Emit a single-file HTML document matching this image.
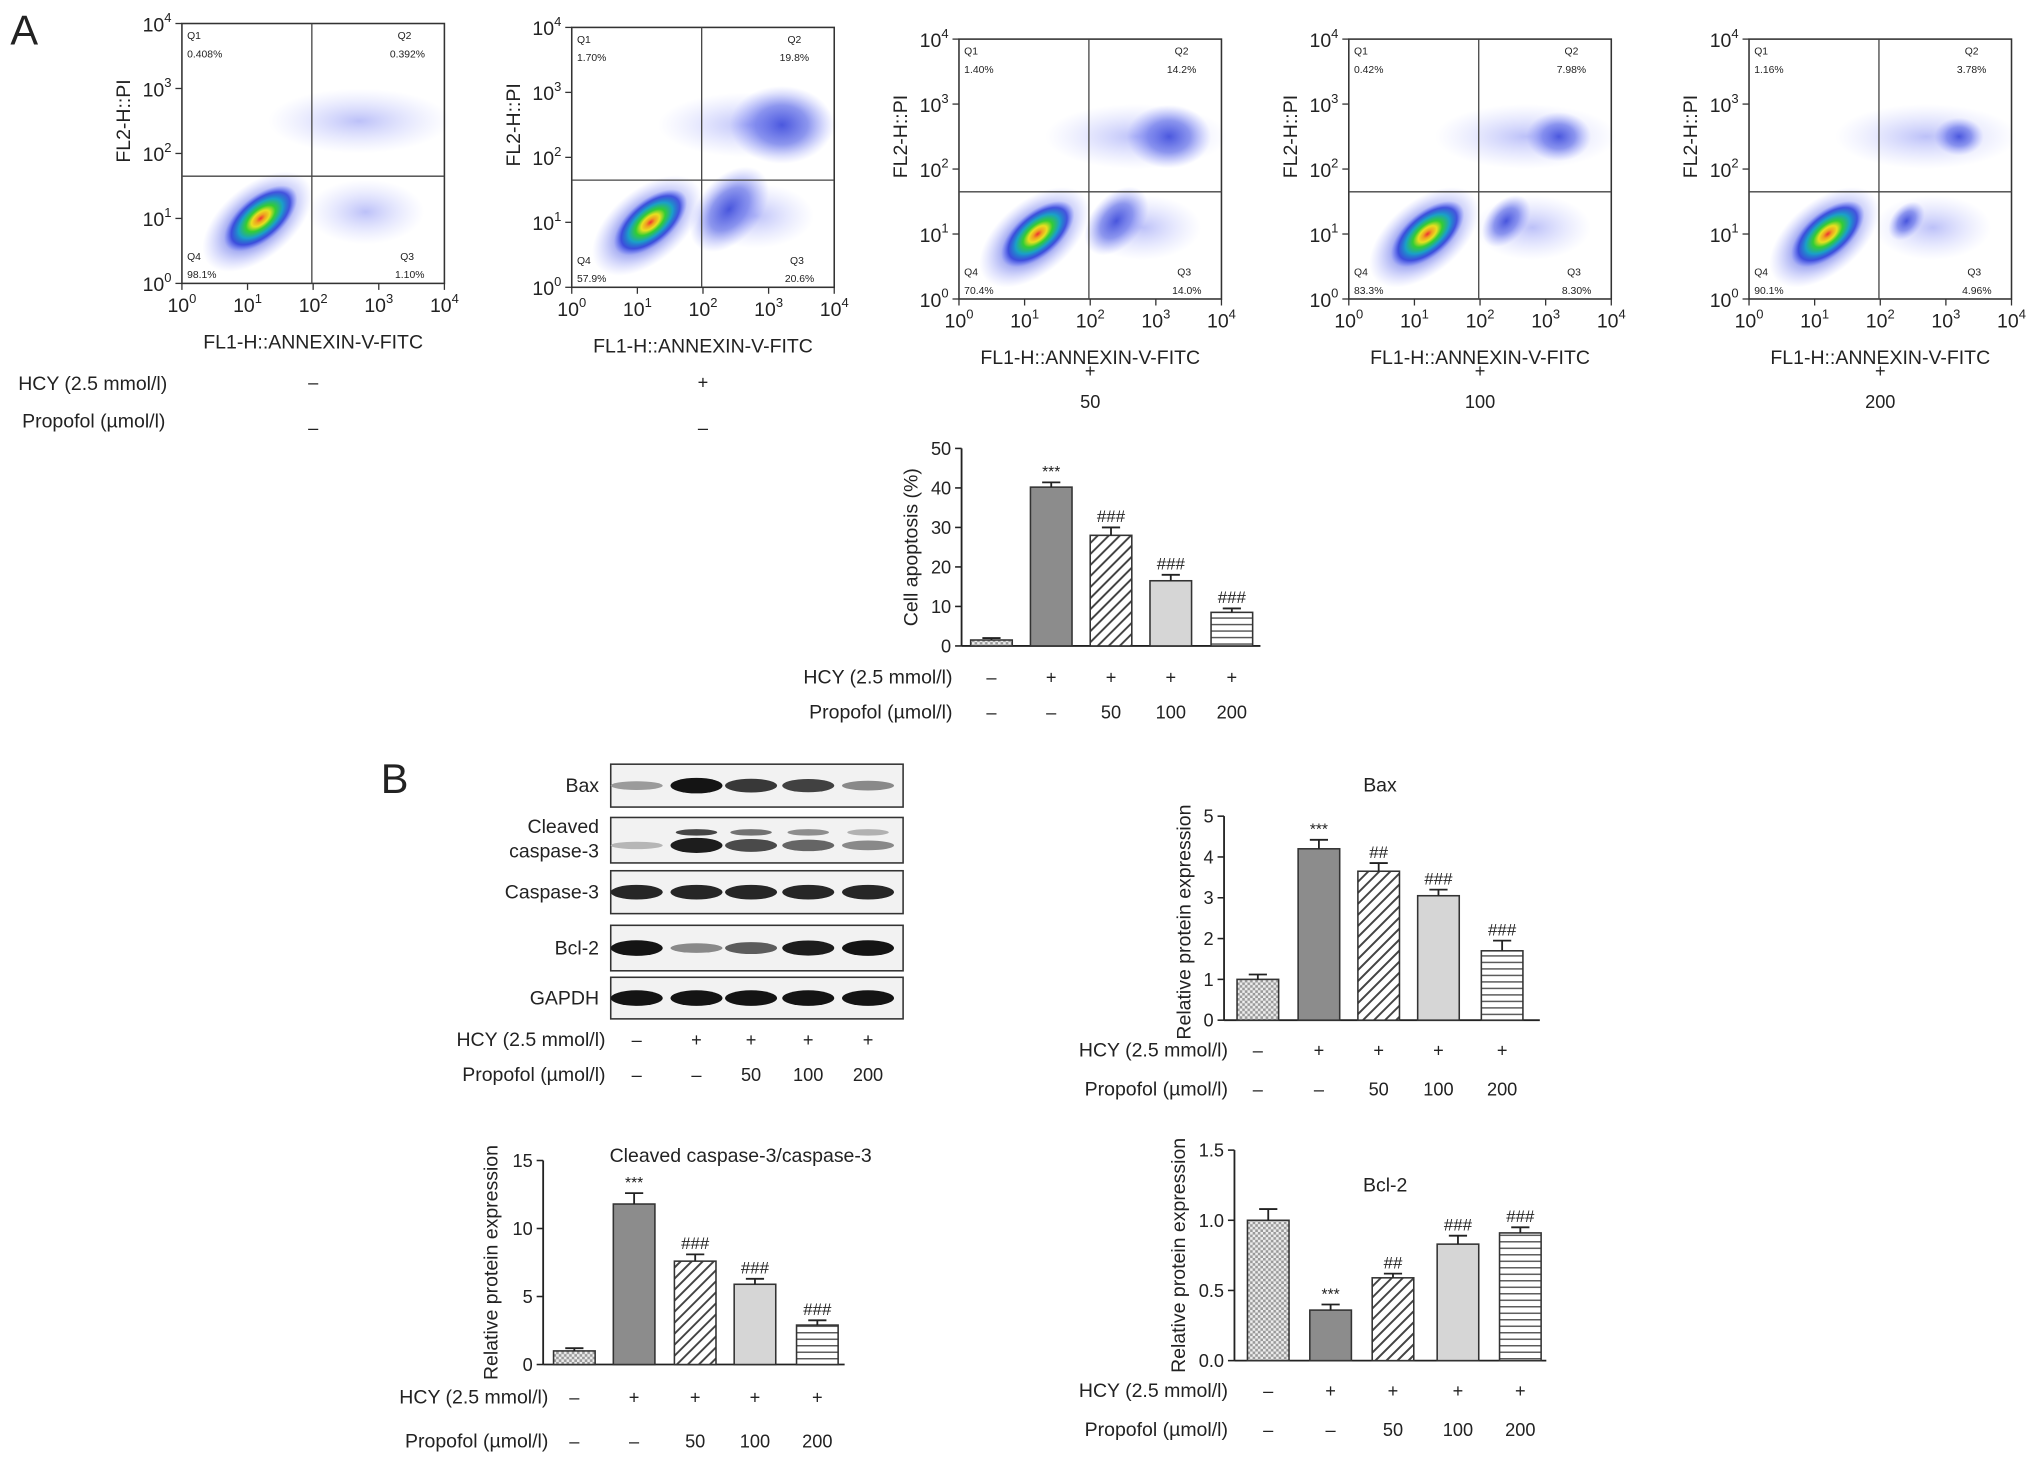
<!DOCTYPE html>
<html><head><meta charset="utf-8"><style>
html,body{margin:0;padding:0;background:#fff}
svg{display:block}
text{font-family:"Liberation Sans",Arial,sans-serif;fill:#222}
</style></head><body>
<svg id="fig" width="2031" height="1466" viewBox="0 0 1563 1128" xmlns="http://www.w3.org/2000/svg">
<defs>
<pattern id="pDots" width="4" height="4" patternUnits="userSpaceOnUse"><rect width="4" height="4" fill="#eee"/><rect width="2" height="2" fill="#999"/><rect x="2" y="2" width="2" height="2" fill="#999"/></pattern>
<pattern id="pDiag" width="6" height="6" patternUnits="userSpaceOnUse" patternTransform="rotate(45)"><rect width="6" height="6" fill="#fff"/><rect width="1.5" height="6" fill="#444"/></pattern>
<pattern id="pHor" width="5" height="5" patternUnits="userSpaceOnUse"><rect width="5" height="5" fill="#fff"/><rect width="5" height="1.1" fill="#555"/></pattern>
<radialGradient id="gCore"><stop offset="0" stop-color="#e33"/><stop offset="0.12" stop-color="#f0a020"/><stop offset="0.25" stop-color="#e8e020"/><stop offset="0.4" stop-color="#3c3"/><stop offset="0.6" stop-color="#1aa0c8"/><stop offset="0.8" stop-color="#2a3cd8" stop-opacity="0.8"/><stop offset="1" stop-color="#6070ff" stop-opacity="0"/></radialGradient>
<radialGradient id="gBlue"><stop offset="0" stop-color="#2030d0" stop-opacity="0.9"/><stop offset="0.5" stop-color="#4050e0" stop-opacity="0.6"/><stop offset="1" stop-color="#8890ff" stop-opacity="0"/></radialGradient>
<radialGradient id="gFaint"><stop offset="0" stop-color="#6a74f0" stop-opacity="0.45"/><stop offset="1" stop-color="#a0a8ff" stop-opacity="0"/></radialGradient>
</defs>
<g font-size="32"><text x="8" y="34">A</text><text x="293" y="610">B</text></g>
<g id="flows"></g>
<g id="blot"></g>
<g id="charts"></g>
</svg>
<script>
const NS="http://www.w3.org/2000/svg";
function el(tag,attrs,parent,txt){const e=document.createElementNS(NS,tag);for(const k in attrs)e.setAttribute(k,attrs[k]);if(txt!==undefined)e.textContent=txt;parent.appendChild(e);return e;}

const flowQ1=["0.408%","1.70%","1.40%","0.42%","1.16%"];
const flowQ2=["0.392%","19.8%","14.2%","7.98%","3.78%"];
const flowQ3=["1.10%","20.6%","14.0%","8.30%","4.96%"];
const flowQ4=["98.1%","57.9%","70.4%","83.3%","90.1%"];
const flowHCY=["–","+","+","+","+"];
const flowProp=["–","–","50","100","200"];
const flowDecades=["0","1","2","3","4"];
const flowLeft=[140,440,738,1038,1346];
const flowTop=[18,21,30,30,30];
const flowQuadX=[1.98,1.98,1.98,1.98,1.98];
const flowQuadY=[1.65,1.65,1.65,1.65,1.65];
const apoptoticDensity=[0.1,1,0.75,0.5,0.3];

const flows=document.getElementById('flows');
for(let i=0;i<5;i++){
  const L=flowLeft[i],T=flowTop[i],W=202,H=200;
  const g=el('g',{},flows);
  
  
  const sx=d=>L+d/4*W, sy=d=>T+H-d/4*H;
  const d=apoptoticDensity[i];
  el('ellipse',{cx:sx(1.15),cy:sy(0.95),rx:50,ry:28,fill:'url(#gBlue)',transform:`rotate(-40 ${sx(1.15)} ${sy(0.95)})`},g);
  el('ellipse',{cx:sx(1.2),cy:sy(1.0),rx:34,ry:17,fill:'url(#gCore)',transform:`rotate(-40 ${sx(1.2)} ${sy(1.0)})`},g);
  if(d>0.2){
    el('ellipse',{cx:sx(2.4),cy:sy(1.2),rx:30*d+8,ry:18*d+6,fill:'url(#gBlue)',transform:`rotate(-50 ${sx(2.4)} ${sy(1.2)})`},g);
    el('ellipse',{cx:sx(3.2),cy:sy(2.5),rx:30*d+10,ry:22*d+8,fill:'url(#gBlue)'},g);
  }
  el('ellipse',{cx:sx(2.7),cy:sy(2.5),rx:70,ry:25,fill:'url(#gFaint)'},g);
  el('ellipse',{cx:sx(2.8),cy:sy(1.1),rx:45,ry:25,fill:'url(#gFaint)'},g);
  el('rect',{x:L,y:T,width:W,height:H,fill:'none',stroke:'#333','stroke-width':1.2},g);
  el('line',{x1:sx(flowQuadX[i]),x2:sx(flowQuadX[i]),y1:T,y2:T+H,stroke:'#444','stroke-width':1},g);
  el('line',{x1:L,x2:L+W,y1:sy(flowQuadY[i]),y2:sy(flowQuadY[i]),stroke:'#444','stroke-width':1},g);
  const fs={'font-size':8};
  el('text',Object.assign({x:L+4,y:T+12},fs),g,'Q1');
  el('text',Object.assign({x:L+4,y:T+26},fs),g,flowQ1[i]);
  el('text',Object.assign({x:L+W-36,y:T+12},fs),g,'Q2');
  el('text',Object.assign({x:L+W-42,y:T+26},fs),g,flowQ2[i]);
  el('text',Object.assign({x:L+4,y:T+H-18},fs),g,'Q4');
  el('text',Object.assign({x:L+4,y:T+H-4},fs),g,flowQ4[i]);
  el('text',Object.assign({x:L+W-34,y:T+H-18},fs),g,'Q3');
  el('text',Object.assign({x:L+W-38,y:T+H-4},fs),g,flowQ3[i]);
  flowDecades.forEach((dd,k)=>{
    const t=el('text',{x:sx(k),y:T+H+22,'font-size':15,'text-anchor':'middle'},g);
    t.innerHTML='10<tspan dy="-7" font-size="10">'+dd+'</tspan>';
    const u=el('text',{x:L-8,y:sy(k)+6,'font-size':15,'text-anchor':'end'},g);
    u.innerHTML='10<tspan dy="-7" font-size="10">'+dd+'</tspan>';
    el('line',{x1:sx(k),x2:sx(k),y1:T+H,y2:T+H+5,stroke:'#333'},g);
    el('line',{x1:L-5,x2:L,y1:sy(k),y2:sy(k),stroke:'#333'},g);
  });
  el('text',{x:L+W/2,y:T+H+50,'font-size':15,'text-anchor':'middle'},g,'FL1-H::ANNEXIN-V-FITC');
  el('text',{x:L-40,y:T+H/2-25,'font-size':15,'text-anchor':'middle',transform:`rotate(-90 ${L-40} ${T+H/2-25})`},g,'FL2-H::PI');
  const lx=L+W/2;
  el('text',{x:lx,y:i<2?299:290,'font-size':14,'text-anchor':'middle'},g,flowHCY[i]);
  el('text',{x:lx,y:i<2?334:314,'font-size':14,'text-anchor':'middle'},g,flowProp[i]);
}
el('text',{x:14,y:300,'font-size':15},flows,'HCY (2.5 mmol/l)');
el('text',{x:17,y:329,'font-size':15},flows,'Propofol (µmol/l)');

const blotLabels=["Bax","Cleaved caspase-3","Caspase-3","Bcl-2","GAPDH"];
const blotTop=[588,629,670,712,752];
const blotH=[33,35,33,35,32];
const bandBax=[0.25,1,0.8,0.75,0.35];
const bandCC3=[0.1,0.95,0.7,0.55,0.35];
const bandCas3=[0.9,0.9,0.9,0.9,0.9];
const bandBcl2=[1,0.35,0.6,0.95,1];
const bandGAPDH=[1,1,1,1,1];
const bands=[bandBax,bandCC3,bandCas3,bandBcl2,bandGAPDH];
const laneX=[490,536,578,622,668];
const blot=document.getElementById('blot');
blotLabels.forEach((lab,r)=>{
  const g=el('g',{},blot);
  
  
  const T=blotTop[r],H=blotH[r];
  el('rect',{x:470,y:T,width:225,height:H,fill:'#f2f2f2',stroke:'#333','stroke-width':1.2},g);
  bands[r].forEach((v,k)=>{
    const c=Math.round(200-v*180);
    el('ellipse',{cx:laneX[k],cy:T+H/2+(r==1?4:0),rx:20,ry:2.5+v*3.5,fill:`rgb(${c},${c},${c})`},g);
    if(r==1&&v>0.3)el('ellipse',{cx:laneX[k],cy:T+H/2-6,rx:16,ry:2.5,fill:`rgb(${c+40},${c+40},${c+40})`},g);
  });
  if(r==1){el('text',{x:461,y:T+12,'font-size':15,'text-anchor':'end'},g,'Cleaved');el('text',{x:461,y:T+31,'font-size':15,'text-anchor':'end'},g,'caspase-3');}
  else el('text',{x:461,y:T+H/2+5,'font-size':15,'text-anchor':'end'},g,lab);
});
const sixHCY=["–","+","+","+","+"], sixProp=["–","–","50","100","200"];
el('text',{x:466,y:805,'font-size':15,'text-anchor':'end'},blot,'HCY (2.5 mmol/l)');
el('text',{x:466,y:832,'font-size':15,'text-anchor':'end'},blot,'Propofol (µmol/l)');
laneX.forEach((x,k)=>{el('text',{x:x,y:805,'font-size':14,'text-anchor':'middle'},blot,sixHCY[k]);el('text',{x:x,y:832,'font-size':14,'text-anchor':'middle'},blot,sixProp[k]);});

const groups=["Control","HCY","HCY+P50","HCY+P100","HCY+P200"];
const apopValues=[1.5,40.2,28,16.5,8.5];
const apopErr=[0.5,1.2,2,1.5,1];
const apopSig=["","***","###","###","###"];
const baxValues=[1.0,4.2,3.65,3.05,1.7];
const baxErr=[0.12,0.22,0.2,0.15,0.25];
const baxSig=["","***","##","###","###"];
const cc3Values=[1.0,11.8,7.6,5.9,2.9];
const cc3Err=[0.2,0.8,0.5,0.4,0.35];
const cc3Sig=["","***","###","###","###"];
const bcl2Values=[1.0,0.36,0.59,0.83,0.91];
const bcl2Err=[0.08,0.04,0.03,0.06,0.04];
const bcl2Sig=["","***","##","###","###"];
const apopTicks=["0","10","20","30","40","50"];
const baxTicks=["0","1","2","3","4","5"];
const cc3Ticks=["0","5","10","15"];
const bcl2Ticks=["0.0","0.5","1.0","1.5"];
const fills=['url(#pDots)','#8c8c8c','url(#pDiag)','#d6d6d6','url(#pHor)'];

function barChart(o){
  const g=el('g',{},document.getElementById('charts'));
  
  
  const max=parseFloat(o.ticks[o.ticks.length-1]);
  const y=v=>o.y0-(v/max)*(o.y0-o.y1);
  o.ticks.forEach(t=>{const v=parseFloat(t);
    el('line',{x1:o.ax-5,x2:o.ax,y1:y(v),y2:y(v),stroke:'#222','stroke-width':1.2},g);
    el('text',{x:o.ax-8,y:y(v)+5,'font-size':14,'text-anchor':'end'},g,t);});
  el('line',{x1:o.ax,x2:o.ax,y1:o.y1,y2:o.y0,stroke:'#222','stroke-width':1.4},g);
  el('line',{x1:o.ax,x2:o.xEnd,y1:o.y0,y2:o.y0,stroke:'#222','stroke-width':1.4},g);
  o.values.forEach((v,k)=>{
    const cx=o.cx[k],w=32;
    const b=el('rect',{x:cx-w/2,y:y(v),width:w,height:o.y0-y(v),fill:fills[k],stroke:'#333','stroke-width':1.2},g);
    
    
    const te=y(v+o.err[k]);
    el('line',{x1:cx,x2:cx,y1:te,y2:y(v),stroke:'#222','stroke-width':1.4},g);
    el('line',{x1:cx-7,x2:cx+7,y1:te,y2:te,stroke:'#222','stroke-width':1.4},g);
    if(o.sig[k])el('text',{x:cx,y:te-4,'font-size':o.sig[k]=='***'?12:13,'text-anchor':'middle'},g,o.sig[k]);
    el('text',{x:cx,y:o.hy,'font-size':14,'text-anchor':'middle'},g,sixHCY[k]);
    el('text',{x:cx,y:o.py,'font-size':14,'text-anchor':'middle'},g,sixProp[k]);
  });
  el('text',{x:o.lx,y:o.hy,'font-size':15,'text-anchor':'end'},g,'HCY (2.5 mmol/l)');
  el('text',{x:o.lx,y:o.py,'font-size':15,'text-anchor':'end'},g,'Propofol (µmol/l)');
  el('text',{x:o.ylx,y:(o.y0+o.y1)/2+o.yOff,'font-size':15,'text-anchor':'middle',transform:`rotate(-90 ${o.ylx} ${(o.y0+o.y1)/2+o.yOff})`},g,o.ylab);
  if(o.title)el('text',{x:o.tx,y:o.ty,'font-size':15,'text-anchor':'middle'},g,o.title);
}
barChart({name:'cell-apoptosis-chart',values:apopValues,err:apopErr,sig:apopSig,ticks:apopTicks,ax:740,xEnd:970,y0:497,y1:345,cx:[763,809,855,901,948],hy:526,py:553,lx:733,ylab:'Cell apoptosis (%)',ylx:706,yOff:0});
barChart({name:'bax-chart',values:baxValues,err:baxErr,sig:baxSig,ticks:baxTicks,ax:942,xEnd:1185,y0:785,y1:628,cx:[968,1015,1061,1107,1156],hy:813,py:843,lx:945,ylab:'Relative protein expression',ylx:916,yOff:3,title:'Bax',tx:1062,ty:609});
barChart({name:'cleaved-caspase-3-chart',values:cc3Values,err:cc3Err,sig:cc3Sig,ticks:cc3Ticks,ax:418,xEnd:650,y0:1050,y1:893,cx:[442,488,535,581,629],hy:1080,py:1114,lx:422,ylab:'Relative protein expression',ylx:383,yOff:0,title:'Cleaved caspase-3/caspase-3',tx:570,ty:894});
barChart({name:'bcl-2-chart',values:bcl2Values,err:bcl2Err,sig:bcl2Sig,ticks:bcl2Ticks,ax:950,xEnd:1190,y0:1047,y1:885,cx:[976,1024,1072,1122,1170],hy:1075,py:1105,lx:945,ylab:'Relative protein expression',ylx:912,yOff:0,title:'Bcl-2',tx:1066,ty:917});
</script>
</body></html>
